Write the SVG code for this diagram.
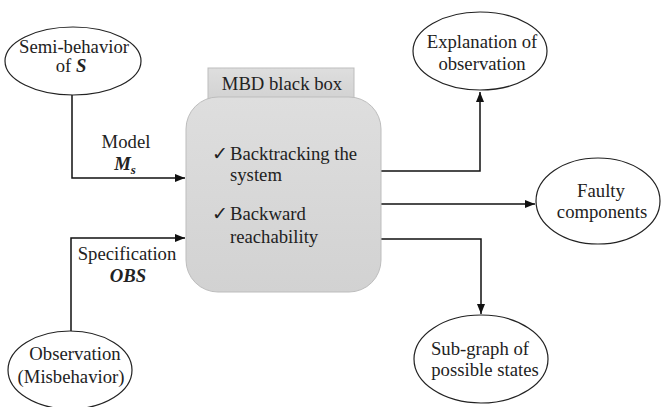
<svg xmlns="http://www.w3.org/2000/svg" width="661" height="407" viewBox="0 0 661 407">
<defs>
<marker id="arr" markerWidth="10" markerHeight="8" refX="10" refY="4" orient="auto" markerUnits="userSpaceOnUse">
<path d="M0,0 L10,4 L0,8 Z" fill="#111"/>
</marker>
<linearGradient id="g" x1="0" y1="0" x2="0" y2="1">
<stop offset="0" stop-color="#dedede"/>
<stop offset="1" stop-color="#d2d2d2"/>
</linearGradient>
</defs>
<style>
text{font-family:"Liberation Serif","Times New Roman","DejaVu Serif",serif;font-size:18.7px;fill:#222}
.c{text-anchor:middle}
.n{fill:#fff;stroke:#222;stroke-width:1.2}
.e{fill:none;stroke:#111;stroke-width:1.5}
.bi{font-weight:bold;font-style:italic}
</style>
<rect width="661" height="407" fill="#fff"/>
<g id="connectors">
<polyline class="e" points="72,95 72,178 185,178" marker-end="url(#arr)"/>
<polyline class="e" points="71,331 71,238 185,238" marker-end="url(#arr)"/>
<polyline class="e" points="381,171 480,171 480,92" marker-end="url(#arr)"/>
<polyline class="e" points="381,204 535,204" marker-end="url(#arr)"/>
<polyline class="e" points="381,239 481,239 481,314" marker-end="url(#arr)"/>
<text class="c" x="126" y="148">Model</text>
<text class="c bi" x="125" y="170">M<tspan font-size="13" dy="4">s</tspan></text>
<text class="c" x="127" y="260">Specification</text>
<text class="c bi" x="128" y="282">OBS</text>
</g>
<g id="semi">
<ellipse class="n" cx="73" cy="61" rx="68" ry="34"/>
<text class="c" x="74" y="53">Semi-behavior</text>
<text class="c" x="71" y="72">of <tspan class="bi">S</tspan></text>
</g>
<g id="mbd">
<rect x="208" y="68" width="146" height="32" fill="url(#g)" stroke="#bdbdbd" stroke-width="1"/>
<rect x="186" y="97" width="195" height="195" rx="32" ry="32" fill="url(#g)" stroke="#bdbdbd" stroke-width="1"/>
<text class="c" x="282" y="90">MBD black box</text>
<text x="212" y="160" font-size="16">✓</text>
<text x="230" y="160">Backtracking the</text>
<text x="230" y="181">system</text>
<text x="212" y="220" font-size="16">✓</text>
<text x="230" y="220">Backward</text>
<text x="230" y="243">reachability</text>
</g>
<g id="explanation">
<ellipse class="n" cx="480" cy="51" rx="67" ry="39"/>
<text class="c" x="482" y="48">Explanation of</text>
<text class="c" x="482" y="70">observation</text>
</g>
<g id="faulty">
<ellipse class="n" cx="598" cy="201" rx="62" ry="43"/>
<text class="c" x="601" y="197">Faulty</text>
<text class="c" x="602" y="218">components</text>
</g>
<g id="subgraph">
<ellipse class="n" cx="481" cy="359" rx="67" ry="44"/>
<text class="c" x="480" y="355">Sub-graph of</text>
<text class="c" x="485" y="376">possible states</text>
</g>
<g id="observation">
<ellipse class="n" cx="70" cy="370" rx="62" ry="39"/>
<text class="c" x="75" y="360">Observation</text>
<text class="c" x="71" y="383">(Misbehavior)</text>
</g>
</svg>
